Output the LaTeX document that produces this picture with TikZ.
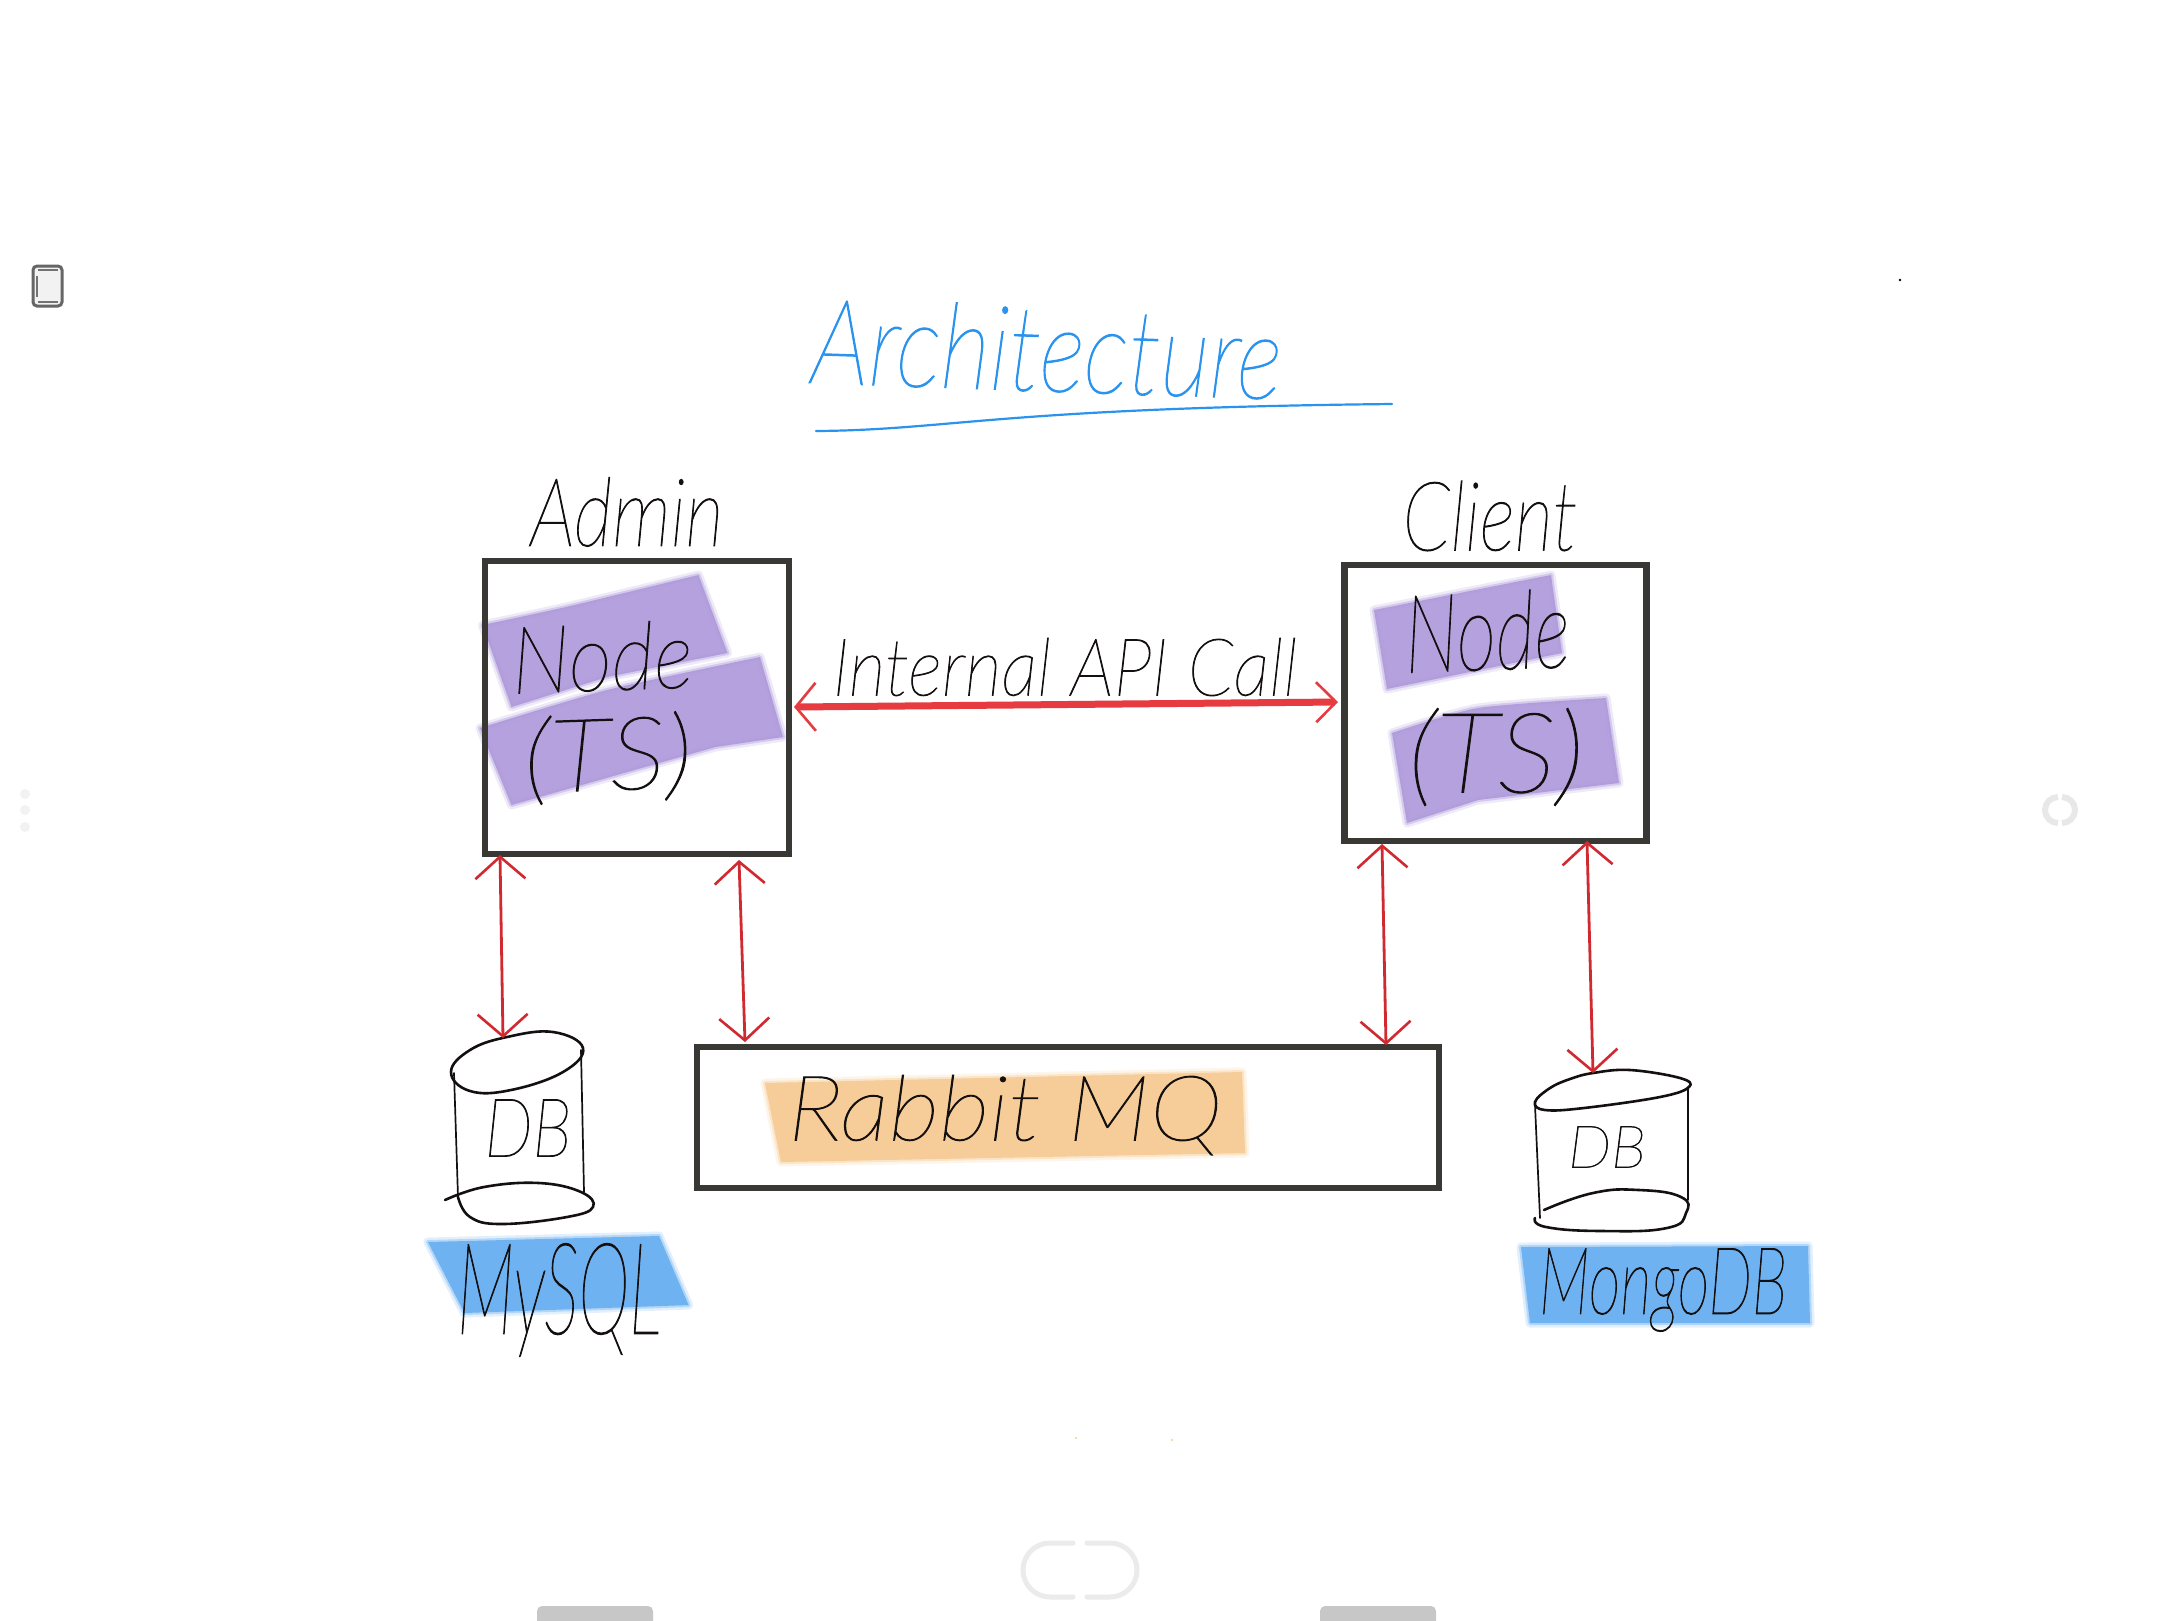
\documentclass[tikz,border=0pt]{standalone}
\usepackage{fontspec}
\usepackage{graphicx}
\usetikzlibrary{arrows.meta}
\IfFontExistsTF{Lato Hairline Italic}{\newfontfamily\hand[FakeBold=1.1]{Lato Hairline Italic}}{\newfontfamily\hand{Lato Light Italic}}
\newdimen\pxu \pxu=0.01cm
\newcommand{\fitt}[3]{\resizebox*{#1\pxu}{#2\pxu}{\hand #3}}
\definecolor{inkc}{HTML}{141010}
\definecolor{boxc}{HTML}{3A3835}
\definecolor{redthin}{HTML}{D02A30}
\definecolor{redthick}{HTML}{E63B40}
\definecolor{titleblue}{HTML}{2A93EE}
\definecolor{purp}{HTML}{AE9ADB}
\definecolor{orng}{HTML}{F6CD98}
\definecolor{blu}{HTML}{6FB2F1}
\tikzset{
  x=0.01cm,y=-0.01cm,
  boxnode/.style={draw=boxc,line width=6.5\pxu,fill=none,inner sep=0pt},
  hw/.style={inner sep=0pt,outer sep=0pt,text=inkc},
  softhl/.style={preaction={draw=#1,draw opacity=.2,line width=9\pxu,line join=round},fill=#1,draw=#1,draw opacity=.4,line width=4\pxu,line join=round},
  purphl/.style={softhl=purp,fill opacity=.92},
  ornghl/.style={softhl=orng},
  bluhl/.style={softhl=blu},
  dbink/.style={draw=inkc,line width=2.6\pxu,line cap=round},
  dbside/.style={draw=inkc,line width=1.7\pxu,line cap=round},
  thinarrow/.style={draw=redthin,line width=2.8\pxu,
    {Straight Barb[length=0.22cm,width=0.5cm,line width=0.026cm]}-{Straight Barb[length=0.22cm,width=0.5cm,line width=0.026cm]}},
  thickarrow/.style={draw=redthick,line width=7\pxu,
    {Straight Barb[length=0.2cm,width=0.48cm,line width=0.026cm]}-{Straight Barb[length=0.2cm,width=0.4cm,line width=0.026cm]}},
  uiline/.style={line width=5\pxu,line cap=round,draw=black!8},
}
\begin{document}
\begin{tikzpicture}
\useasboundingbox[fill=white] (0,0) rectangle (2160,1620);

% interface furniture
\draw[draw=black!60,line width=3\pxu,fill=black!5,rounded corners=4\pxu] (33,266) rectangle (62,306);
\draw[draw=black!55,line width=2\pxu] (38,270) -- (58,270) (38,302) -- (58,302) (37,276) -- (37,297);
\fill[black!5] (25,794) circle (5) (25,810) circle (5) (25,827) circle (5);
\draw[black!9,line width=6\pxu] (2058,797) arc[start angle=-90,end angle=-270,radius=13];
\draw[black!9,line width=6\pxu] (2062,797) arc[start angle=-90,end angle=90,radius=13];
\fill[black] (1900,280) circle (1.3);
\fill[orng] (1076,1438) circle (1.2) (1172,1440) circle (1.2);
\draw[uiline] (1073,1543) -- (1050,1543) arc[start angle=-90,end angle=-270,radius=27] -- (1073,1597);
\draw[uiline] (1087,1543) -- (1110,1543) arc[start angle=-90,end angle=90,radius=27] -- (1087,1597);
\fill[black!22,rounded corners=5\pxu] (537,1606) rectangle (653,1630);
\fill[black!22,rounded corners=5\pxu] (1320,1606) rectangle (1436,1630);

% highlights
\path[purphl] plot[smooth,tension=.35] coordinates {(482.5,625) (566,607) (698.5,575)} -- (727.5,653) -- (607,677) -- (511.5,707) -- cycle;
\path[purphl] plot[smooth,tension=.35] coordinates {(480,728) (607,690) (760,657)} -- (783,737) -- (715.5,747) -- (511.5,805) -- cycle;
\path[purphl] (1374,610) -- (1551,575) -- (1562,653) -- (1387,689) -- cycle;
\path[purphl] plot[smooth,tension=.4] coordinates {(1392,733) (1478,708) (1606,698)} -- (1619,783) -- (1478,800) -- (1407,823) -- cycle;
\path[ornghl] (765,1083) -- (1242,1072) -- (1245,1153) -- (781,1162) -- cycle;
\path[bluhl] (428,1242) -- (659,1236) -- (688.5,1305) -- (464.5,1313) -- cycle;
\path[bluhl] (1521,1247) -- (1808,1246) -- (1810,1323) -- (1530,1323) -- cycle;

% boxes
\node[boxnode,minimum width=304\pxu,minimum height=293\pxu] (admin) at (637,707.5) {};
\node[boxnode,minimum width=302\pxu,minimum height=276\pxu] (client) at (1495.5,703) {};
\node[boxnode,minimum width=742\pxu,minimum height=141\pxu] (rabbit) at (1067.75,1117.5) {};

% title
\node[hw,text=titleblue,rotate=-2] (title) at (1047,349) {\fitt{470}{86}{Architecture}};
\coordinate (ulA) at (816,431);
\coordinate (ulB) at (1392,404);
\draw[titleblue,line width=2.2\pxu,line cap=round] (ulA) .. controls (950,430) and (1000,408) .. (ulB);

% labels
\node[hw] (adminlabel) at (627,512) {\fitt{193}{69}{Admin}};
\node[hw] (clientlabel) at (1490,516) {\fitt{175}{70}{Client}};
\node[hw,rotate=2] (nodeA) at (602,657) {\fitt{181}{68}{Node}};
\node[hw,rotate=2] (tsA) at (608,758) {\fitt{169}{88}{(TS)}};
\node[hw,rotate=2] (nodeC) at (1487,631) {\fitt{165}{79}{Node}};
\node[hw] (tsC) at (1496,757) {\fitt{176}{97}{(TS)}};
\node[hw] (apilabel) at (1065,667) {\fitt{465}{58}{Internal API Call}};
\node[hw] (rabbitlabel) at (1005,1115) {\fitt{434}{80}{Rabbit MQ}};
\node[hw] (mysql) at (559,1300) {\fitt{204}{113}{MySQL}};
\node[hw] (mongo) at (1663,1290) {\fitt{248}{83}{MongoDB}};

% databases
\draw[dbink] plot[smooth cycle,tension=.7] coordinates {(507,1037) (553,1032) (583,1048) (563,1072) (511,1090) (470,1091) (451,1072) (470,1050)};
\draw[dbside] (454,1073) -- (458,1197) (581,1050) -- (584,1192);
\draw[dbink] plot[smooth,tension=.7] coordinates {(445,1200) (484,1187) (539,1183) (581,1192) (593,1207) (567,1217) (502,1224) (470,1217) (458,1197)};
\node[hw] (dbA) at (528,1128) {\fitt{87}{57}{DB}};

\draw[dbink] plot[smooth cycle,tension=.65] coordinates {(1593,1073) (1630,1070) (1680,1078) (1689,1087) (1660,1097) (1584,1108) (1545,1110) (1535,1102) (1550,1088) (1570,1079)};
\draw[dbside] (1535,1105) -- (1540,1218) (1688,1087) -- (1688,1200);
\draw[dbink] plot[smooth,tension=.8] coordinates {(1544,1210) (1593,1193) (1639,1190) (1681,1197) (1686,1213) (1667,1228) (1602,1231) (1546,1227) (1535,1218)};
\node[hw] (dbB) at (1607,1147) {\fitt{78}{41}{DB}};

% connector ends
\coordinate (a1) at (500,855);  \coordinate (a2) at (503,1038);
\coordinate (b1) at (739,860);  \coordinate (b2) at (745,1042);
\coordinate (c1) at (1382,844); \coordinate (c2) at (1386,1045);
\coordinate (d1) at (1587,841); \coordinate (d2) at (1593,1073);
\coordinate (e1) at (794,707);  \coordinate (e2) at (1338,702);

\draw[thickarrow] (e1) -- (e2);
\draw[thinarrow] (a1) -- (a2);
\draw[thinarrow] (b1) -- (b2);
\draw[thinarrow] (c1) -- (c2);
\draw[thinarrow] (d1) -- (d2);
\end{tikzpicture}
\end{document}
